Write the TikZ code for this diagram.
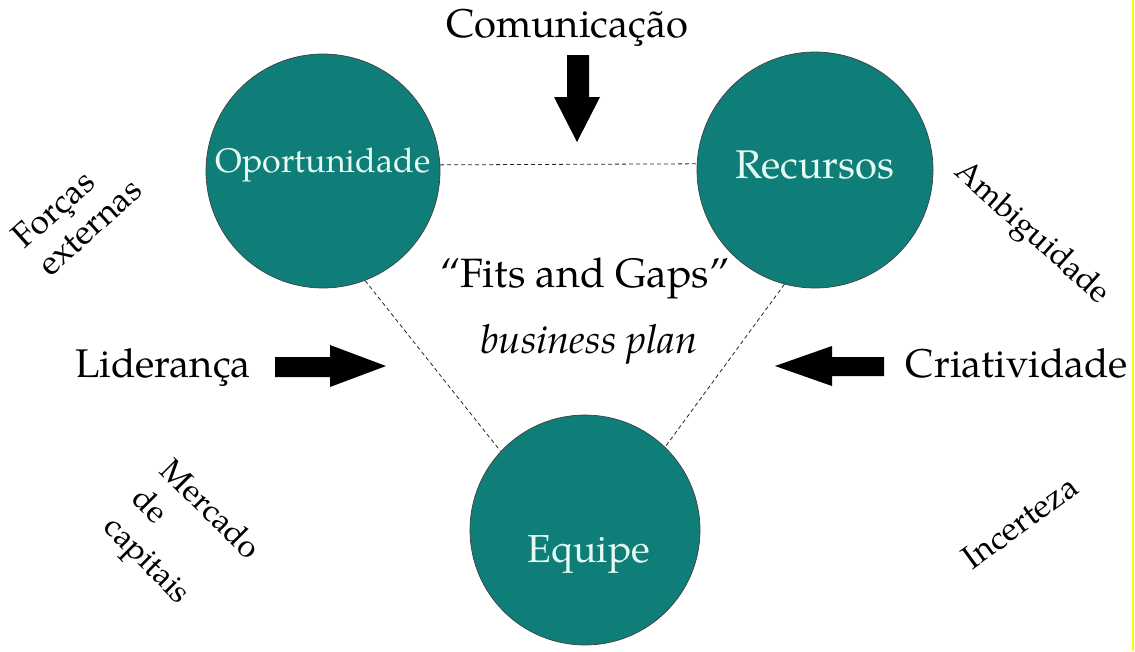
\documentclass[tikz,border=0pt]{standalone}
\usepackage{fontspec}
\setmainfont{TeX Gyre Pagella}
\usetikzlibrary{calc}
\definecolor{hubfill}{RGB}{15,126,121}
\definecolor{hubink}{RGB}{228,250,242}
\definecolor{edgeyellow}{RGB}{255,248,0}
\begin{document}
\begin{tikzpicture}[x=1pt,y=-1pt,
  hub/.style={circle, fill=hubfill, draw=black!75, line width=0.7pt, inner sep=0pt},
  hubtext/.style={text=hubink, anchor=base, inner sep=0pt},
  link/.style={draw=black!85, dash pattern=on 4pt off 3pt, line width=0.8pt},
  bigtext/.style={anchor=base, inner sep=0pt, font=\fontsize{40}{48}\selectfont},
  sidetext/.style={align=left, inner sep=0pt},
  blockarrow/.style={fill=black}]
\useasboundingbox (0,0) rectangle (1135,651);
\fill[white] (0,0) rectangle (1135,651);
\draw[edgeyellow, line width=2pt] (1132.5,0) -- (1132.5,651);

% the three hubs
\node[hub, minimum size=234pt] (opp) at (323,171) {};
\node[hub, minimum size=236pt] (rec) at (815,170) {};
\node[hub, minimum size=230pt] (team) at (585,530) {};

\node[hubtext, font=\fontsize{34}{40}\selectfont] (oppT) at (323,172) {Oportunidade};
\node[hubtext, font=\fontsize{40}{48}\selectfont] (recT) at (815,178) {Recursos};
\node[hubtext, font=\fontsize{39}{46}\selectfont] (teamT) at (589,562) {Equipe};

% dashed triangle between the hubs
\draw[link] (opp.3) -- (rec.177);
\draw[link] (opp.-69) -- (team.137);
\draw[link] (rec.-105) -- (team.46);

% labels
\node[bigtext] (com) at (567,37) {Comunicação};
\node[bigtext] (lid) at (163,377) {Liderança};
\node[bigtext] (cri) at (1017,377) {Criatividade};
\node[bigtext, font=\fontsize{41}{48}\selectfont] (fit) at (585,287) {“Fits and Gaps”};
\node[bigtext, font=\fontsize{40}{48}\itshape] (bp) at (589,353) {business plan};

\node[sidetext, rotate=42, font=\fontsize{34}{38}\selectfont] (forces) at (77,213) {Forças\\externas};
\node[sidetext, rotate=-45, font=\fontsize{32}{40}\selectfont] (capital) at (180,540) {Mercado\\de\\capitais};
\node[sidetext, rotate=-42, font=\fontsize{32}{36}\selectfont] (amb) at (1031,234) {Ambiguidade};
\node[sidetext, rotate=36, font=\fontsize{33}{36}\selectfont] (inc) at (1020,522) {Incerteza};

% block arrows
\fill[blockarrow] (567,55) -- (589,55) -- (589,97) -- (600,97) -- (577,142)
  -- (554,97) -- (567,97) -- cycle;
\fill[blockarrow] (275,357) -- (330,357) -- (330,345) -- (386,366) -- (330,387)
  -- (330,377) -- (275,377) -- cycle;
\fill[blockarrow] (884,357) -- (832,357) -- (832,346) -- (775,366) -- (832,386)
  -- (832,376) -- (884,376) -- cycle;
\end{tikzpicture}
\end{document}
